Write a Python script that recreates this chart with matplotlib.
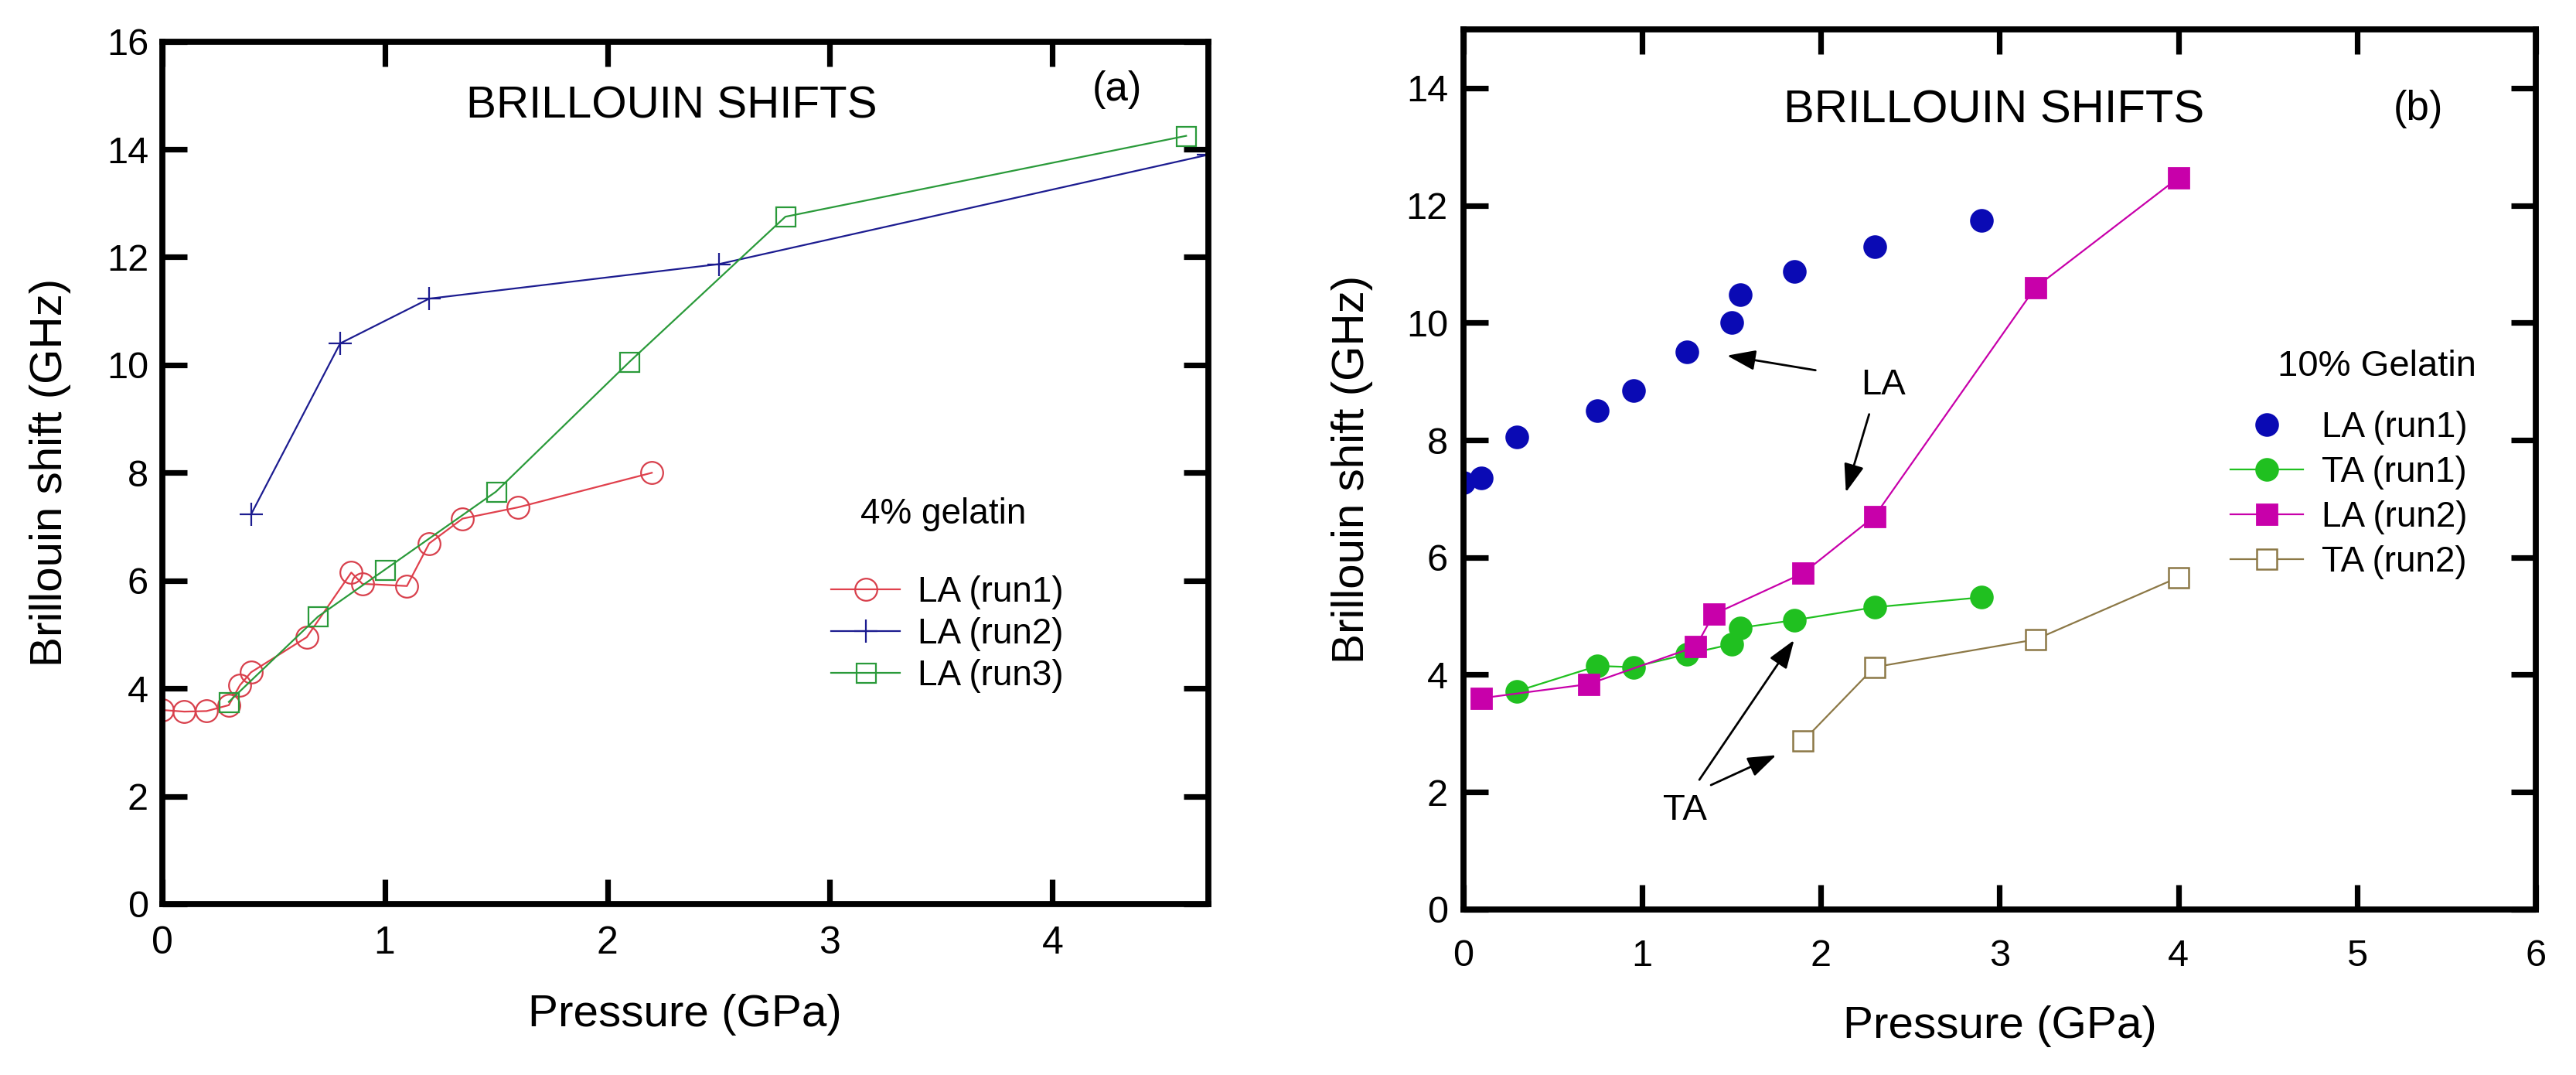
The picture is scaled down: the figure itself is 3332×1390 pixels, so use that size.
import numpy as np
import matplotlib.pyplot as plt

plt.rcParams['font.family'] = ['Liberation Sans', 'DejaVu Sans']

# (a) 4% gelatin, LA shifts
p_run1 = [0, 0.1, 0.2, 0.3, 0.35, 0.4, 0.65, 0.85, 0.9, 1.1, 1.2, 1.35, 1.6, 2.2]
la_run1 = [3.6, 3.57, 3.58, 3.69, 4.06, 4.3, 4.95, 6.15, 5.94, 5.9, 6.69, 7.15, 7.36, 8.0]
p_run2 = [0.4, 0.8, 1.2, 2.5, 4.7]
la_run2 = [7.23, 10.4, 11.23, 11.87, 13.9]
p_run3 = [0.3, 0.7, 1.0, 1.5, 2.1, 2.8, 4.6]
la_run3 = [3.75, 5.33, 6.2, 7.65, 10.06, 12.75, 14.25]

# (b) 10% gelatin
pb_la1 = [0, 0.1, 0.3, 0.75, 0.95, 1.25, 1.5, 1.55, 1.85, 2.3, 2.9]
b_la1 = [7.27, 7.35, 8.05, 8.5, 8.85, 9.5, 10.0, 10.48, 10.87, 11.3, 11.75]
pb_ta1 = [0.3, 0.75, 0.95, 1.25, 1.5, 1.55, 1.85, 2.3, 2.9]
b_ta1 = [3.72, 4.15, 4.13, 4.35, 4.52, 4.8, 4.93, 5.15, 5.32]
pb_la2 = [0.1, 0.7, 1.3, 1.4, 1.9, 2.3, 3.2, 4.0]
b_la2 = [3.6, 3.84, 4.48, 5.03, 5.73, 6.7, 10.6, 12.47]
pb_ta2 = [1.9, 2.3, 3.2, 4.0]
b_ta2 = [2.87, 4.13, 4.6, 5.66]

fig = plt.figure(figsize=(16.66, 6.95), dpi=200)
ax1 = fig.add_axes([0.0629, 0.159, 0.4062, 0.8024])
ax2 = fig.add_axes([0.5681, 0.154, 0.4163, 0.8187])


def style_axes(ax, xpad, ypad):
    for s in ax.spines.values():
        s.set_linewidth(2.8)
    ax.tick_params(direction='in', length=11.4, width=2.6, top=True, right=True,
                   labelsize=17.5)
    ax.tick_params(axis='x', pad=xpad)
    ax.tick_params(axis='y', pad=ypad)


# ---- panel (a)
ax1.plot(p_run1, la_run1, '-o', color='#e0404c', mfc='none', mec='#d8404c', ms=10.3,
         mew=0.8, lw=0.8, label='LA (run1)')
ax1.plot(p_run2, la_run2, '-+', color='#1c1c90', ms=11, mew=0.8, lw=0.8, label='LA (run2)')
ax1.plot(p_run3, la_run3, '-s', color='#2a9a3a', mfc='none', ms=9, mew=0.8, lw=0.8,
         label='LA (run3)')
ax1.set_xlim(0, 4.7)
ax1.set_ylim(0, 16)
ax1.set_xticks([0, 1, 2, 3, 4])
ax1.set_yticks(np.arange(0, 17, 2))
style_axes(ax1, 10, 6.3)
ax1.tick_params(axis='x', labelsize=18)
ax1.set_xlabel('Pressure (GPa)', fontsize=21)
ax1.set_ylabel('Brillouin shift (GHz)', fontsize=21)
ax1.xaxis.set_label_coords(0.5, -0.104)
ax1.yaxis.set_label_coords(-0.087, 0.5)
ax1.text(2.29, 14.8, 'BRILLOUIN SHIFTS', fontsize=21, ha='center', va='center')
ax1.text(4.29, 15.1, '(a)', fontsize=19, ha='center', va='center')
ax1.text(3.51, 7.23, '4% gelatin', fontsize=16.5, ha='center', va='center')
ax1.legend(loc='upper left', bbox_to_anchor=(0.6395, 0.381), frameon=False,
           fontsize=16.5, handlelength=1.95, handletextpad=0.5, labelspacing=0.22,
           borderpad=0, borderaxespad=0)

# ---- panel (b)
ax2.plot(pb_la1, b_la1, 'o', color='#0a0ab4', ms=10, label='LA (run1)')
ax2.plot(pb_ta1, b_ta1, '-o', color='#20c020', ms=10, lw=0.8, label='TA (run1)')
ax2.plot(pb_la2, b_la2, '-s', color='#c800aa', ms=9.5, lw=0.8, label='LA (run2)')
ax2.plot(pb_ta2, b_ta2, '-s', color='#8c7846', mfc='white', ms=9.5, mew=0.9, lw=0.8,
         label='TA (run2)')
ax2.set_xlim(0, 6)
ax2.set_ylim(0, 15)
ax2.set_xticks([0, 1, 2, 3, 4, 5, 6])
ax2.set_yticks(np.arange(0, 15, 2))
style_axes(ax2, 13.7, 7.2)
ax2.set_xlabel('Pressure (GPa)', fontsize=21)
ax2.set_ylabel('Brillouin shift (GHz)', fontsize=21)
ax2.xaxis.set_label_coords(0.5, -0.109)
ax2.yaxis.set_label_coords(-0.084, 0.5)
ax2.text(2.97, 13.62, 'BRILLOUIN SHIFTS', fontsize=21.5, ha='center', va='center')
ax2.text(5.34, 13.64, '(b)', fontsize=19, ha='center', va='center')
ax2.text(5.11, 9.25, '10% Gelatin', fontsize=17, ha='center', va='center')
ax2.legend(loc='upper left', bbox_to_anchor=(0.715, 0.567), frameon=False,
           fontsize=16.5, handlelength=2.05, handletextpad=0.54, labelspacing=0.31,
           borderpad=0, borderaxespad=0)

arrow = dict(arrowstyle='-|>,head_length=0.45,head_width=0.16', color='black', lw=1.0,
             mutation_scale=25, shrinkA=0, shrinkB=0)
ax2.text(2.35, 8.94, 'LA', fontsize=17, ha='center', va='center')
ax2.annotate('', xy=(1.475, 9.44), xytext=(1.97, 9.19), arrowprops=arrow)
ax2.annotate('', xy=(2.14, 7.11), xytext=(2.27, 8.44), arrowprops=arrow)
ax2.text(1.24, 1.68, 'TA', fontsize=17, ha='center', va='center')
ax2.annotate('', xy=(1.85, 4.59), xytext=(1.32, 2.21), arrowprops=arrow)
ax2.annotate('', xy=(1.75, 2.63), xytext=(1.385, 2.12), arrowprops=arrow)

fig.savefig('out.png', dpi=200)
